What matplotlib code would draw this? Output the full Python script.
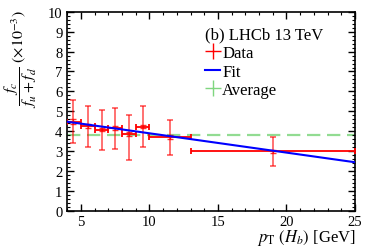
import numpy as np
import matplotlib
matplotlib.use("Agg")
import matplotlib.pyplot as plt
from matplotlib.lines import Line2D

# bins in pT(Hb) [GeV]
bin_lo = [4, 5, 6, 7, 8, 9, 10, 13]
bin_hi = [5, 6, 7, 8, 9, 10, 13, 25]
x_pts = [4.4, 5.5, 6.5, 7.5, 8.5, 9.5, 11.5, 19.0]
y_vals = [4.47, 4.24, 4.07, 4.14, 3.85, 4.22, 3.70, 2.98]
y_up = [5.57, 5.25, 5.08, 5.16, 4.81, 5.25, 4.57, 3.69]
y_dn = [3.40, 3.21, 3.06, 3.10, 2.54, 3.18, 2.80, 2.23]
stat = [0.12, 0.10, 0.08, 0.09, 0.10, 0.09, 0.08, 0.06]

fit_x = [4, 25]
fit_y = [4.47, 2.43]
average = 3.78

plt.rcParams["font.family"] = ["Liberation Serif", "DejaVu Serif"]
plt.rcParams["mathtext.fontset"] = "stix"

fig = plt.figure(figsize=(3.74, 2.53), dpi=100)
ax = fig.add_axes([0.18, 0.164, 0.769, 0.785])

x = np.array(x_pts)
y = np.array(y_vals)
xerr = [x - np.array(bin_lo), np.array(bin_hi) - x]
yerr = [y - np.array(y_dn), np.array(y_up) - y]

ax.axhline(average, color="#7fd67f", lw=1.6, ls=(0, (6, 3)), alpha=0.85, zorder=1)
ax.errorbar(x, y, yerr=yerr, fmt="none", ecolor="red", alpha=0.6,
            elinewidth=1.3, capsize=2.5, capthick=1.3, zorder=2)
ax.errorbar(x, y, xerr=xerr, fmt="none", ecolor="red",
            elinewidth=1.3, capsize=2.5, capthick=1.3, zorder=3)
ax.errorbar(x, y, yerr=stat, fmt="none", ecolor="red", alpha=0.8,
            elinewidth=1.0, capsize=2.5, capthick=1.0, zorder=3)
ax.plot(fit_x, fit_y, color="blue", lw=1.5, zorder=4)

ax.set_xlim(4, 25)
ax.set_ylim(0, 10)
ax.set_xticks([5, 10, 15, 20, 25])
ax.set_xticks(np.arange(4, 26, 1), minor=True)
ax.set_yticks(np.arange(0, 11, 1))
ax.set_yticks(np.arange(0, 10.01, 0.2), minor=True)
ax.tick_params(which="both", direction="in", top=True, right=True, labelsize=10.5)
ax.tick_params(which="major", length=5, width=1)
ax.tick_params(which="minor", length=2.5, width=0.8)
for s in ax.spines.values():
    s.set_linewidth(1.2)

fig.text(0.055, 0.96, r"$\dfrac{f_c}{f_u+f_d}$ $(\times 10^{-3})$", rotation=90,
         ha="center", va="top", fontsize=11.5)
fig.text(0.95, 0.02, r"$p_{\rm T}$ $(H_b)$ [GeV]", ha="right", va="bottom",
         fontsize=12)

handles = [Line2D([], [], color="red", marker="+", ls="none", markersize=12, mew=1),
           Line2D([], [], color="blue", lw=1.5),
           Line2D([], [], color="#7fd67f", marker="+", ls="none", markersize=12, mew=1)]
leg = ax.legend(handles, ["Data", "Fit", "Average"], title="(b) LHCb 13 TeV",
                loc="upper left", bbox_to_anchor=(0.457, 0.96), frameon=False,
                fontsize=12, title_fontsize=12, handlelength=0.9, handletextpad=0.1,
                labelspacing=0.15, borderaxespad=0)
leg._legend_box.align = "left"

fig.savefig("out.png", dpi=100)
